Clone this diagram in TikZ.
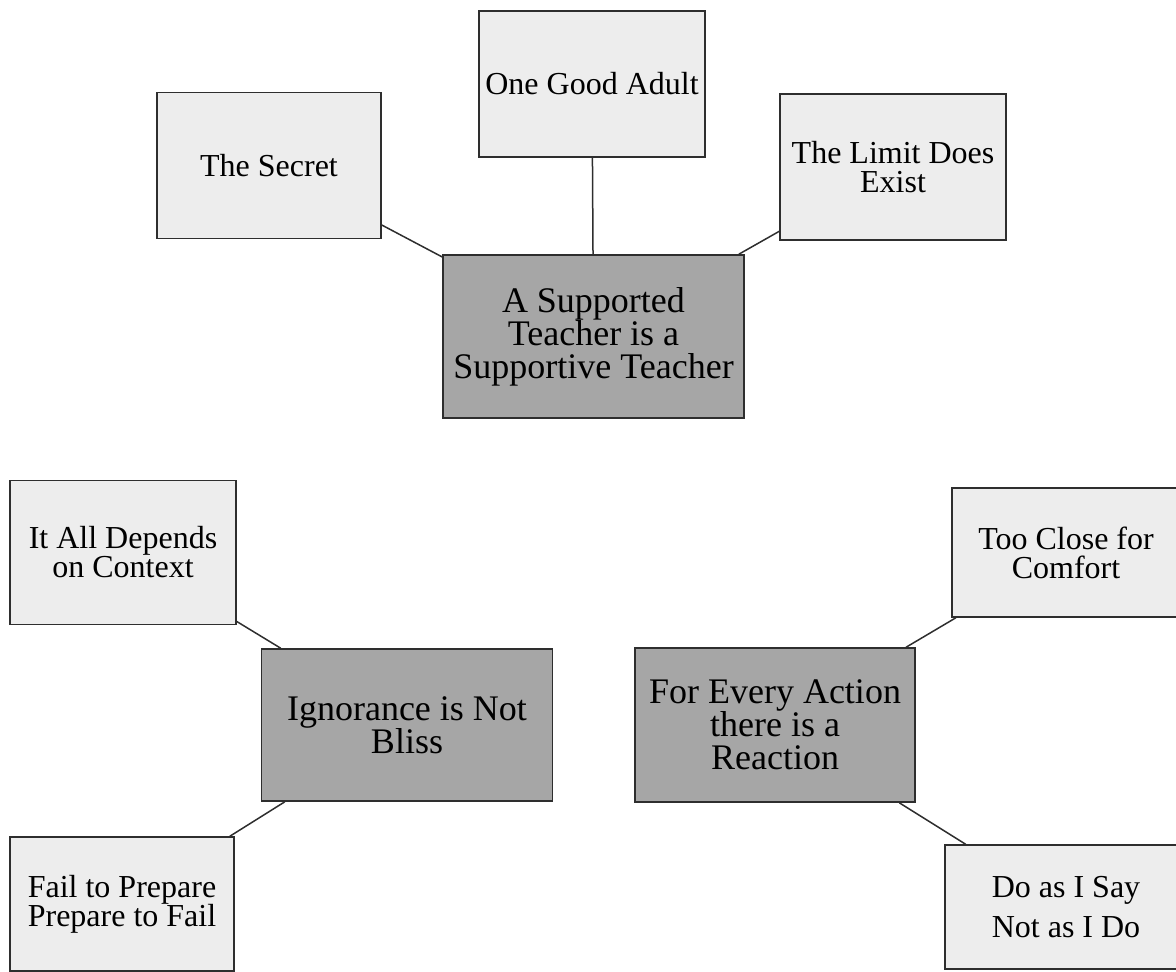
\documentclass[tikz,border=0pt]{standalone}
\usepackage{fontspec}
\setmainfont{Liberation Serif}
\definecolor{lightbox}{HTML}{EDEDED}
\definecolor{darkbox}{HTML}{A6A6A6}
\definecolor{edgecol}{HTML}{2E2E2E}
\newcommand\mytightlines{\lineskiplimit=-20pt\relax}
\tikzset{
  subbox/.style={draw=edgecol, line width=0.75pt, fill=lightbox, inner sep=0pt, align=center,
     font=\fontsize{16}{14.5}\selectfont\mytightlines},
  mainbox/.style={draw=edgecol, line width=0.75pt, fill=darkbox, inner sep=0pt, align=center,
     font=\fontsize{18}{16.5}\selectfont},
  link/.style={draw=edgecol, line width=0.75pt}
}
\begin{document}
\begin{tikzpicture}[x=0.5pt,y=-0.5pt]
\useasboundingbox (0,0) rectangle (1176,971);
\clip (0,0) rectangle (1176,971);
% top cluster
\node[mainbox, minimum width=150.5pt, minimum height=81.5pt] (main) at (593.5,336.5) {A Supported\\Teacher is a\\Supportive Teacher};
\node[subbox, minimum width=112pt, minimum height=73pt] (secret) at (269,165.5) {The Secret};
\node[subbox, minimum width=113pt, minimum height=73pt] (adult) at (592,84) {One Good Adult};
\node[subbox, minimum width=113pt, minimum height=73pt] (limit) at (893,167) {The Limit Does\\Exist};
% bottom left cluster
\node[mainbox, minimum width=145.5pt, minimum height=76pt] (ign) at (407,725) {Ignorance is Not\\Bliss};
\node[subbox, minimum width=113pt, minimum height=72pt] (depends) at (123,552.5) {It All Depends\\on Context};
\node[subbox, minimum width=112pt, minimum height=67pt] (fail) at (122,904) {Fail to Prepare\\Prepare to Fail};
% bottom right cluster
\node[mainbox, minimum width=140pt, minimum height=77pt] (action) at (775,725) {For Every Action\\there is a\\Reaction};
\node[subbox, minimum width=114pt, minimum height=64.5pt] (close) at (1066,552.5) {Too Close for\\Comfort};
\node[subbox, minimum width=121pt, minimum height=62pt, font=\fontsize{16}{20}\selectfont] (doas) at (1066,907) {Do as I Say\\Not as I Do};
% connectors
\draw[link] (secret) -- (main);
\draw[link] (adult) -- (main);
\draw[link] (limit) -- (main);
\draw[link] (depends) -- (ign);
\draw[link] (fail) -- (ign);
\draw[link] (close) -- (action);
\draw[link] (doas) -- (action);
\end{tikzpicture}
\end{document}
